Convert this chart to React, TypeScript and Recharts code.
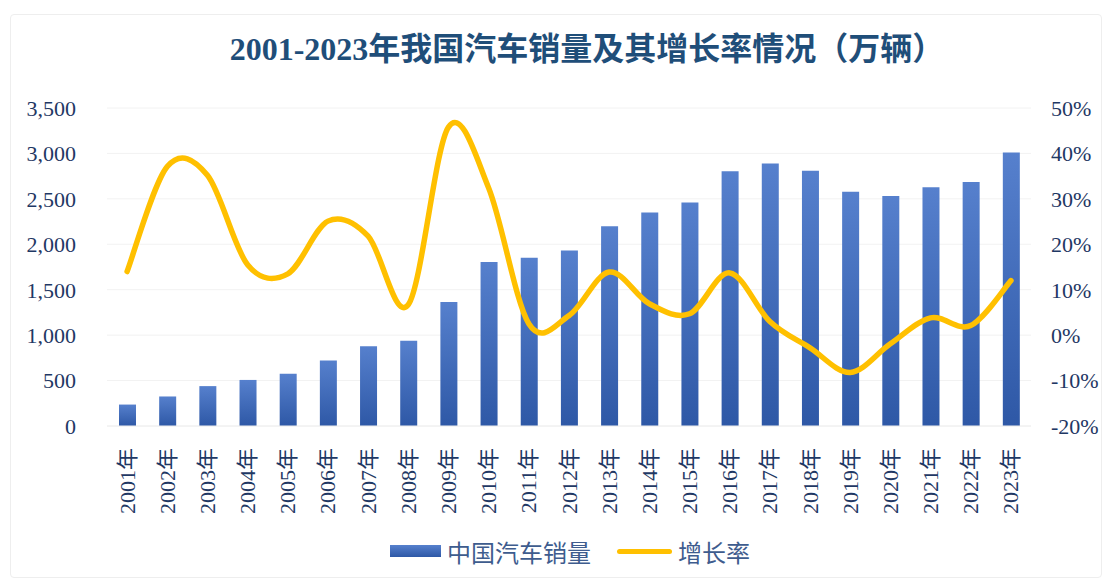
import React from "react";
import {
  ComposedChart,
  Bar,
  Line,
  XAxis,
  YAxis,
  CartesianGrid,
} from "recharts";

const years = [
  "2001年", "2002年", "2003年", "2004年", "2005年", "2006年", "2007年", "2008年",
  "2009年", "2010年", "2011年", "2012年", "2013年", "2014年", "2015年", "2016年",
  "2017年", "2018年", "2019年", "2020年", "2021年", "2022年", "2023年",
];
const sales = [
  236, 325, 439, 507, 576, 722, 879, 938, 1364, 1806, 1851, 1931, 2198, 2349,
  2460, 2803, 2888, 2808, 2577, 2531, 2628, 2686, 3009,
];
const growth = [
  14, 37.1, 35.2, 15.5, 13.5, 25.1, 21.8, 6.7, 45.8, 32.4, 2.5, 4.3, 13.9, 6.9,
  4.7, 13.7, 3.0, -2.8, -8.2, -1.9, 3.8, 2.1, 12,
];
const leftTicks = [0, 500, 1000, 1500, 2000, 2500, 3000, 3500];
const rightTicks = [-20, -10, 0, 10, 20, 30, 40, 50];

const data = years.map((y, i) => ({ year: y, sales: sales[i], growth: growth[i] }));

const FONT = "'Times New Roman', 'Liberation Serif', 'Noto Sans CJK SC', serif";
const TICK_COLOR = "#1F3864";

// Excel-like smoothed line (Catmull-Rom)
const smoothCurve = (context: any) => {
  let pts: [number, number][] = [];
  return {
    areaStart() {},
    areaEnd() {},
    lineStart() {
      pts = [];
    },
    lineEnd() {
      if (!pts.length) return;
      context.moveTo(pts[0][0], pts[0][1]);
      for (let i = 0; i < pts.length - 1; i++) {
        const p0 = pts[i - 1] || pts[i];
        const p1 = pts[i];
        const p2 = pts[i + 1];
        const p3 = pts[i + 2] || p2;
        context.bezierCurveTo(
          p1[0] + (p2[0] - p0[0]) / 6,
          p1[1] + (p2[1] - p0[1]) / 6,
          p2[0] - (p3[0] - p1[0]) / 6,
          p2[1] - (p3[1] - p1[1]) / 6,
          p2[0],
          p2[1]
        );
      }
    },
    point(x: number, y: number) {
      pts.push([+x, +y]);
    },
  };
};

const fmtThousands = (v: number) =>
  String(v).replace(/\B(?=(\d{3})+(?!\d))/g, ",");

const YearTick = (props: any) => {
  const { x, y, payload } = props;
  const tx = x;
  const ty = y + 14;
  return (
    <text
      x={tx}
      y={ty}
      transform={`rotate(-90, ${tx}, ${ty})`}
      textAnchor="end"
      dominantBaseline="central"
      fill={TICK_COLOR}
      fontSize={22}
      fontFamily={FONT}
    >
      {payload.value}
    </text>
  );
};

export default function App() {
  return (
    <div
      style={{
        position: "absolute",
        left: 0,
        top: 0,
        width: 1108,
        height: 581,
        background: "#fff",
        fontFamily: FONT,
      }}
    >
      <div
        style={{
          position: "absolute",
          left: 10,
          top: 14,
          width: 1090,
          height: 562,
          border: "1px solid #eeeeee",
          borderRadius: 4,
        }}
      />
      <div
        style={{
          position: "absolute",
          left: 0,
          width: 1174,
          top: 30,
          textAlign: "center",
          fontSize: 32,
          fontWeight: "bold",
          color: "#1F4E79",
          lineHeight: "38px",
          whiteSpace: "nowrap",
        }}
      >
        2001-2023年我国汽车销量及其增长率情况（万辆）
      </div>
      <ComposedChart
        width={1108}
        height={581}
        data={data}
        margin={{ top: 108, right: 0, left: 0, bottom: 0 }}
        style={{ position: "absolute", left: 0, top: 0 }}
      >
        <defs>
          <linearGradient id="barGrad" x1="0" y1="0" x2="0" y2="1">
            <stop offset="0%" stopColor="#5680CD" />
            <stop offset="100%" stopColor="#2E58A6" />
          </linearGradient>
        </defs>
        <CartesianGrid vertical={false} stroke="#f2f2f2" yAxisId="left" />
        <XAxis
          dataKey="year"
          interval={0}
          tickLine={false}
          axisLine={{ stroke: "#eeeeee" }}
          height={155}
          tick={<YearTick />}
        />
        <YAxis
          yAxisId="left"
          orientation="left"
          width={107}
          domain={[0, 3500]}
          ticks={leftTicks}
          tickFormatter={fmtThousands}
          axisLine={false}
          tickLine={false}
          tickMargin={25}
          tick={{ fill: TICK_COLOR, fontSize: 22, fontFamily: FONT }}
        />
        <YAxis
          yAxisId="right"
          orientation="right"
          width={77}
          domain={[-20, 50]}
          ticks={rightTicks}
          tickFormatter={(v: number) => `${v}%`}
          axisLine={false}
          tickLine={false}
          tickMargin={14}
          tick={{ fill: TICK_COLOR, fontSize: 22, fontFamily: FONT, textAnchor: "start" }}
        />
        <Bar
          yAxisId="left"
          dataKey="sales"
          name="中国汽车销量"
          barSize={17}
          fill="url(#barGrad)"
          isAnimationActive={false}
        />
        <Line
          yAxisId="right"
          dataKey="growth"
          name="增长率"
          type={smoothCurve as any}
          stroke="#FFC000"
          strokeWidth={5.5}
          strokeLinecap="round"
          dot={false}
          activeDot={false}
          isAnimationActive={false}
        />
      </ComposedChart>
      <div
        style={{
          position: "absolute",
          left: 390,
          top: 535,
          height: 32,
          display: "flex",
          alignItems: "center",
          fontSize: 24,
          color: "#3E5C8E",
          fontFamily: FONT,
          whiteSpace: "nowrap",
        }}
      >
        <span
          style={{
            display: "inline-block",
            width: 51,
            height: 12,
            background: "linear-gradient(#5680CD, #2E58A6)",
            marginRight: 6,
          }}
        />
        <span>中国汽车销量</span>
        <span
          style={{
            display: "inline-block",
            width: 55,
            height: 5,
            borderRadius: 3,
            background: "#FFC000",
            marginLeft: 26,
            marginRight: 6,
          }}
        />
        <span>增长率</span>
      </div>
    </div>
  );
}
